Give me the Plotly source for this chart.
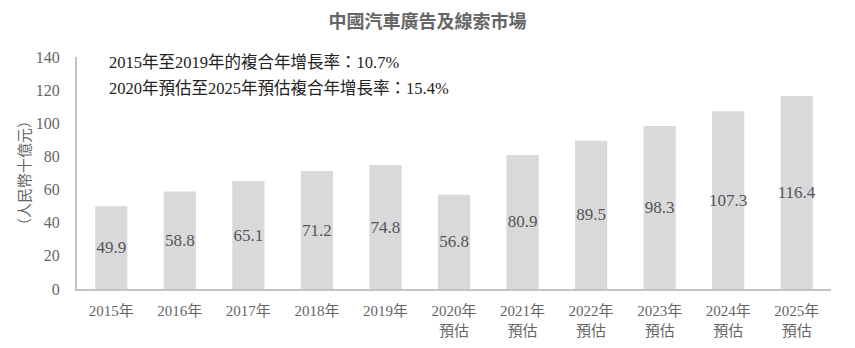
import plotly.graph_objects as go

categories = ["2015年", "2016年", "2017年", "2018年", "2019年", "2020年<br>預估",
              "2021年<br>預估", "2022年<br>預估", "2023年<br>預估", "2024年<br>預估", "2025年<br>預估"]
values = [49.9, 58.8, 65.1, 71.2, 74.8, 56.8, 80.9, 89.5, 98.3, 107.3, 116.4]
title = "中國汽車廣告及線索市場"
y_title = "（人民幣十億元）"
notes = ["2015年至2019年的複合年增長率：10.7%", "2020年預估至2025年預估複合年增長率：15.4%"]

FONT = "Liberation Serif, Noto Sans CJK TC, serif"
GREY = "#666666"

fig = go.Figure(go.Bar(
    x=categories, y=values,
    marker=dict(color="#d9d9db", line=dict(width=0)),
    text=[f"{v:.1f}" for v in values],
    textposition="inside", insidetextanchor="middle", textangle=0,
    constraintext="none",
    textfont=dict(family=FONT, size=17, color="#555555"),
    insidetextfont=dict(family=FONT, size=17, color="#555555"),
    cliponaxis=False,
))

fig.update_layout(
    width=855, height=348,
    margin=dict(l=77, r=24, t=57, b=59),
    paper_bgcolor="white", plot_bgcolor="white",
    bargap=0.53,
    showlegend=False,
    font=dict(family=FONT, color=GREY, size=15),
    title=dict(text=f"<b>{title}</b>", x=0.5, xanchor="center", y=0.937, yanchor="middle",
               font=dict(family=FONT, size=18, color="#666666")),
    xaxis=dict(showline=True, linecolor="#c4c4c4", linewidth=2, ticks="", showgrid=False,
               ticklabelstandoff=7, automargin=False,
               tickfont=dict(family=FONT, size=15, color=GREY)),
    yaxis=dict(range=[0, 140], dtick=20, showline=True, linecolor="#c4c4c4", linewidth=2,
               ticks="", showgrid=False, zeroline=False, ticklen=0, ticklabelstandoff=12,
               automargin=False,
               tickfont=dict(family=FONT, size=16, color=GREY),
               title=dict(text=y_title, standoff=2, font=dict(family=FONT, size=15, color=GREY))),
)

for i, t in enumerate(notes):
    fig.add_annotation(text=t, xref="paper", yref="paper", x=0.04, xanchor="left",
                       y=0.978 - i * 0.112, yanchor="middle", showarrow=False,
                       font=dict(family=FONT, size=16.5, color="#222222"))

fig.write_html("out.html")
